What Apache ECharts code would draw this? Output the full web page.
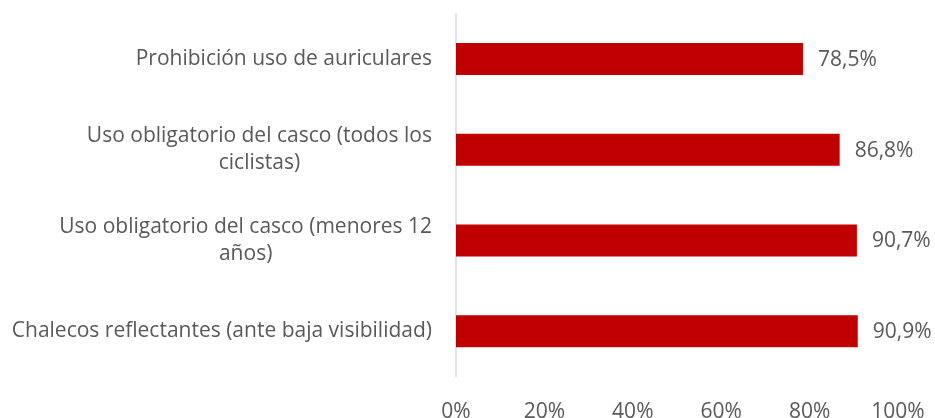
<!DOCTYPE html>
<html>
<head>
<meta charset="utf-8">
<script src="https://cdn.jsdelivr.net/npm/echarts@6/dist/echarts.min.js"></script>
<style>
  html, body { margin: 0; padding: 0; background: #ffffff; }
  #chart { width: 935px; height: 418px; }
</style>
</head>
<body>
<div id="chart"></div>
<script>
// Medidas de seguridad para ciclistas: porcentaje de apoyo
const categories = [
  'Prohibición uso de auriculares',
  'Uso obligatorio del casco (todos los\nciclistas)',
  'Uso obligatorio del casco (menores 12\naños)',
  'Chalecos reflectantes (ante baja visibilidad)'
];
const values = [78.5, 86.8, 90.7, 90.9];
const xTicks = [0, 20, 40, 60, 80, 100];

const textColor = '#595959';
const fontFamily = '"Open Sans", Lato, sans-serif';

const chart = echarts.init(document.getElementById('chart'));
chart.setOption({
  animation: false,
  backgroundColor: '#ffffff',
  grid: {
    left: 456, right: 37, top: 13.5, bottom: 41.5,
    containLabel: false,
    outerBoundsMode: 'none'
  },
  xAxis: {
    type: 'value',
    min: xTicks[0],
    max: xTicks[xTicks.length - 1],
    interval: xTicks[1] - xTicks[0],
    axisLine: { show: false },
    axisTick: { show: false },
    splitLine: { show: false },
    axisLabel: {
      margin: 25,
      color: textColor,
      fontFamily: fontFamily,
      fontSize: 21,
      formatter: v => v + '%'
    }
  },
  yAxis: {
    type: 'category',
    inverse: true,
    data: categories,
    axisLine: { show: true, lineStyle: { color: '#d9d9d9', width: 1.5 } },
    axisTick: { show: false },
    axisLabel: {
      margin: 24,
      color: textColor,
      fontFamily: fontFamily,
      fontSize: 21,
      formatter: v => v.split('\n').map(s => '{c|' + s + '}').join('\n'),
      rich: {
        c: {
          align: 'center',
          color: textColor,
          fontFamily: fontFamily,
          fontSize: 21,
          lineHeight: 27
        }
      }
    }
  },
  series: [{
    type: 'bar',
    data: values,
    barWidth: 32,
    itemStyle: { color: '#c00000' },
    label: {
      show: true,
      position: 'right',
      distance: 15,
      offset: [0, 1],
      color: textColor,
      fontFamily: fontFamily,
      fontSize: 21,
      formatter: p => p.value.toFixed(1).replace('.', ',') + '%'
    }
  }]
});
</script>
</body>
</html>
